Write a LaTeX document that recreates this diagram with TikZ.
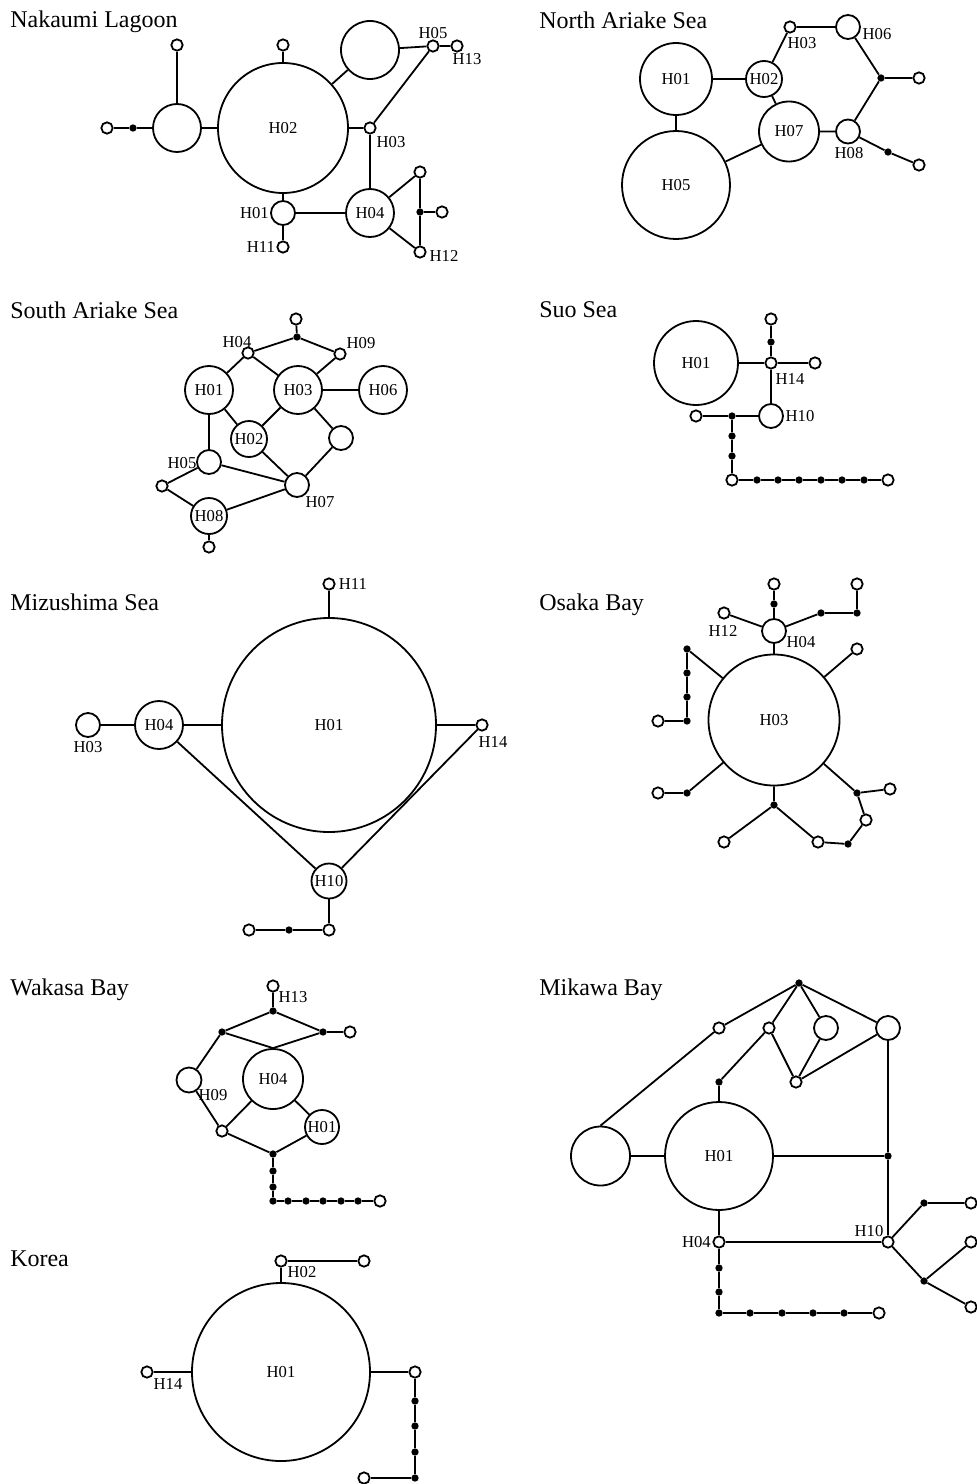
\documentclass[tikz,border=0pt]{standalone}
\usepackage{fontspec}
\setmainfont{Liberation Serif}
\begin{document}
\begin{tikzpicture}[x=0.75pt,y=-0.75pt,
  hap/.style={circle,draw,fill=white,line width=1.35pt,inner sep=0pt,minimum size=#1*1.5pt,font=\fontsize{12.5}{14}\selectfont},
  sm/.style={circle,draw,fill=white,line width=1.35pt,inner sep=0pt,minimum size=8.5pt},
  dot/.style={circle,fill=black,inner sep=0pt,minimum size=5.5pt},
  lbl/.style={inner sep=0pt,font=\fontsize{12.5}{14}\selectfont},
  ttl/.style={inner sep=0pt,anchor=base west,font=\fontsize{18}{21}\selectfont},
  edge/.style={line width=1.35pt}]
\useasboundingbox (0,0) rectangle (977,1484);

% ---------------- Nakaumi Lagoon
\node[ttl] (t1) at (10,27.7) {Nakaumi Lagoon};
\node[hap=65] (n02) at (283,128) {H02};
\node[sm] (n02t) at (283,45) {};
\node[hap=29] (nA) at (370,50) {};
\node[sm] (n05) at (433,46) {};
\node[sm] (n13) at (457,46) {};
\node[sm] (n03) at (370,128) {};
\node[hap=24] (n04) at (370,213) {H04};
\node[hap=12] (n01) at (283,213) {};
\node[sm] (n11) at (283,247) {};
\node[sm] (nR1) at (420,172) {};
\node[sm] (n12) at (420,252) {};
\node[dot] (nd1) at (420,212) {};
\node[sm] (nR2) at (442,212) {};
\node[hap=24] (nL) at (177,128) {};
\node[sm] (nLt) at (177,45) {};
\node[dot] (nd2) at (133,128) {};
\node[sm] (nLL) at (107,128) {};
\node[lbl] (ln05) at (433,33) {H05};
\node[lbl] (ln13) at (467,59) {H13};
\node[lbl] (ln03) at (391,142) {H03};
\node[lbl,anchor=east] (ln01) at (269,213) {H01};
\node[lbl] (ln11) at (261,247) {H11};
\node[lbl] (ln12) at (444,256) {H12};
\draw[edge] (n02) -- (n02t);
\draw[edge] (n02) -- (nA);
\draw[edge] (nA) -- (n05) -- (n13);
\draw[edge] (n02) -- (n03) -- (n05);
\draw[edge] (n03) -- (n04);
\draw[edge] (n02) -- (n01) -- (n04);
\draw[edge] (n01) -- (n11);
\draw[edge] (n04) -- (nR1) -- (nd1) -- (n12) -- (n04);
\draw[edge] (nd1) -- (nR2);
\draw[edge] (nL) -- (n02);
\draw[edge] (nL) -- (nLt);
\draw[edge] (nL) -- (nd2) -- (nLL);

% ---------------- North Ariake Sea
\node[ttl] (t2) at (539,28.3) {North Ariake Sea};
\node[hap=36] (a01) at (676,79) {H01};
\node[hap=54] (a05) at (676,185) {H05};
\node[hap=18] (a02) at (764,79) {H02};
\node[sm] (a03) at (790,27) {};
\node[hap=12] (a06) at (848,27) {};
\node[hap=30] (a07) at (789,131.5) {H07};
\node[hap=12] (a08) at (848,131.5) {};
\node[dot] (ad1) at (881,78) {};
\node[sm] (ar1) at (919,78) {};
\node[dot] (ad2) at (888,152) {};
\node[sm] (ar2) at (919,165) {};
\node[lbl] (la03) at (802,43) {H03};
\node[lbl] (la06) at (877,34) {H06};
\node[lbl] (la08) at (849,153) {H08};
\draw[edge] (a01) -- (a05);
\draw[edge] (a01) -- (a02) -- (a03) -- (a06) -- (ad1) -- (ar1);
\draw[edge] (a02) -- (a07) -- (a08) -- (ad1);
\draw[edge] (a05) -- (a07);
\draw[edge] (a08) -- (ad2) -- (ar2);

% ---------------- South Ariake Sea
\node[ttl] (t3) at (10,318.3) {South Ariake Sea};
\node[hap=24] (s01) at (209,390) {H01};
\node[hap=24] (s03) at (298,390) {H03};
\node[hap=24] (s06) at (383,390) {H06};
\node[sm] (s04) at (248,353) {};
\node[dot] (sd) at (297,337) {};
\node[sm] (st) at (296,319) {};
\node[sm] (s09) at (340,354) {};
\node[hap=18] (s02) at (249,439) {H02};
\node[hap=12] (sX) at (341,438) {};
\node[hap=12] (s05) at (209,462) {};
\node[hap=12] (s07) at (297,485) {};
\node[sm] (sS) at (162,486) {};
\node[hap=18] (s08) at (209,516) {H08};
\node[sm] (sb) at (209,547) {};
\node[lbl] (ls04) at (237,342) {H04};
\node[lbl] (ls09) at (361,343) {H09};
\node[lbl] (ls05) at (182,463) {H05};
\node[lbl] (ls07) at (320,502) {H07};
\draw[edge] (s01) -- (s04) -- (sd) -- (s09) -- (s03);
\draw[edge] (sd) -- (st);
\draw[edge] (s04) -- (s03) -- (s06);
\draw[edge] (s01) -- (s02) -- (s03);
\draw[edge] (s03) -- (sX) -- (s07);
\draw[edge] (s02) -- (s07);
\draw[edge] (s01) -- (s05) -- (s07);
\draw[edge] (s05) -- (sS) -- (s08) -- (s07);
\draw[edge] (s08) -- (sb);

% ---------------- Suo Sea
\node[ttl] (t4) at (539,317.3) {Suo Sea};
\node[hap=42] (u01) at (696,363) {H01};
\node[sm] (u14) at (771,363) {};
\node[dot] (ud1) at (771,342) {};
\node[sm] (ut) at (771,319) {};
\node[sm] (ur) at (815,363) {};
\node[hap=12] (u10) at (771,416) {};
\node[dot] (ud2) at (732,416) {};
\node[sm] (ul) at (696,416) {};
\node[dot] (ud3) at (732,436) {};
\node[dot] (ud4) at (732,456) {};
\node[sm] (uc) at (732,480) {};
\node[dot] (uc1) at (757,480) {};
\node[dot] (uc2) at (778,480) {};
\node[dot] (uc3) at (799,480) {};
\node[dot] (uc4) at (821,480) {};
\node[dot] (uc5) at (842,480) {};
\node[dot] (uc6) at (864,480) {};
\node[sm] (ue) at (888,480) {};
\node[lbl] (lu14) at (790,379) {H14};
\node[lbl] (lu10) at (800,416) {H10};
\draw[edge] (u01) -- (u14) -- (ud1) -- (ut);
\draw[edge] (u14) -- (ur);
\draw[edge] (u14) -- (u10) -- (ud2) -- (ul);
\draw[edge] (ud2) -- (ud3) -- (ud4) -- (uc) -- (uc1) -- (uc2) -- (uc3) -- (uc4) -- (uc5) -- (uc6) -- (ue);

% ---------------- Mizushima Sea
\node[ttl] (t5) at (10,610) {Mizushima Sea};
\node[hap=107] (m01) at (329,725) {H01};
\node[sm] (m11) at (329,584) {};
\node[hap=24] (m04) at (159,725) {H04};
\node[hap=12] (m03) at (88,725) {};
\node[sm] (m14) at (482,725) {};
\node[hap=17.5] (m10) at (329,881) {H10};
\node[sm] (mb1) at (329,930) {};
\node[dot] (mbd) at (289,930) {};
\node[sm] (mb2) at (249,930) {};
\node[lbl] (lm11) at (353,584) {H11};
\node[lbl] (lm03) at (88,747) {H03};
\node[lbl] (lm14) at (493,742) {H14};
\draw[edge] (m03) -- (m04) -- (m01) -- (m14) -- (m10) -- (m04);
\draw[edge] (m11) -- (m01);
\draw[edge] (m10) -- (mb1) -- (mbd) -- (mb2);

% ---------------- Osaka Bay
\node[ttl] (t6) at (539,610) {Osaka Bay};
\node[hap=65.5] (o03) at (774,720) {H03};
\node[hap=12] (o04) at (774,631) {};
\node[sm] (o12) at (724,613) {};
\node[dot] (od1) at (774,604) {};
\node[sm] (oc1) at (774,584) {};
\node[dot] (od2) at (821,613) {};
\node[dot] (od3) at (857,613) {};
\node[sm] (oc2) at (857,584) {};
\node[sm] (oc3) at (857,649) {};
\node[dot] (ol1) at (687,649) {};
\node[dot] (ol2) at (687,673) {};
\node[dot] (ol3) at (687,697) {};
\node[dot] (ol4) at (687,721) {};
\node[sm] (olc) at (658,721) {};
\node[dot] (od4) at (687,793) {};
\node[sm] (oc4) at (658,793) {};
\node[dot] (od5) at (774,805) {};
\node[sm] (oc5) at (724,842) {};
\node[sm] (oc6) at (818,842) {};
\node[dot] (od6) at (848,844) {};
\node[sm] (oc7) at (866,820) {};
\node[dot] (od7) at (857,793) {};
\node[sm] (oc8) at (890,789) {};
\node[lbl] (lo04) at (801,642) {H04};
\node[lbl] (lo12) at (723,631) {H12};
\draw[edge] (o04) -- (o03);
\draw[edge] (o04) -- (o12);
\draw[edge] (o04) -- (od1) -- (oc1);
\draw[edge] (o04) -- (od2) -- (od3) -- (oc2);
\draw[edge] (o03) -- (oc3);
\draw[edge] (o03) -- (ol1) -- (ol2) -- (ol3) -- (ol4) -- (olc);
\draw[edge] (o03) -- (od4) -- (oc4);
\draw[edge] (o03) -- (od5) -- (oc5);
\draw[edge] (od5) -- (oc6) -- (od6) -- (oc7) -- (od7) -- (o03);
\draw[edge] (od7) -- (oc8);

% ---------------- Wakasa Bay
\node[ttl] (t7) at (10,995) {Wakasa Bay};
\node[sm] (w13) at (273,986) {};
\node[dot] (wd1) at (273,1011) {};
\node[dot] (wd2) at (222,1032) {};
\node[dot] (wd3) at (323,1032) {};
\node[sm] (wc1) at (350,1032) {};
\node[hap=30] (w04) at (273,1079) {H04};
\node[hap=12.5] (w09) at (189,1080) {};
\node[sm] (wc2) at (222,1131) {};
\node[hap=17] (w01) at (322,1127) {H01};
\node[dot] (wd4) at (273,1154) {};
\node[dot] (wd5) at (273,1171) {};
\node[dot] (wd6) at (273,1187) {};
\node[dot] (wd7) at (273,1201) {};
\node[dot] (wc3) at (288,1201) {};
\node[dot] (wc4) at (306,1201) {};
\node[dot] (wc5) at (323,1201) {};
\node[dot] (wc6) at (341,1201) {};
\node[dot] (wc7) at (358,1201) {};
\node[sm] (we) at (380,1201) {};
\node[lbl] (lw13) at (293,997) {H13};
\node[lbl] (lw09) at (213,1095) {H09};
\draw[edge] (w13) -- (wd1) -- (wd2) -- (w04.north) -- (wd3) -- (wd1);
\draw[edge] (wd3) -- (wc1);
\draw[edge] (wd2) -- (w09) -- (wc2) -- (w04) -- (w01) -- (wd4) -- (wc2);
\draw[edge] (wd4) -- (wd5) -- (wd6) -- (wd7) -- (wc3) -- (wc4) -- (wc5) -- (wc6) -- (wc7) -- (we);

% ---------------- Mikawa Bay
\node[ttl] (t8) at (539,995) {Mikawa Bay};
\node[dot] (kt) at (799,983) {};
\node[sm] (kA) at (719,1028) {};
\node[sm] (kB) at (769,1028) {};
\node[hap=12] (kC) at (826,1028) {};
\node[hap=12] (kD) at (888,1028) {};
\node[sm] (kE) at (796,1082) {};
\node[dot] (kF) at (719,1082) {};
\node[hap=54] (k01) at (719,1156) {H01};
\node[hap=29.5] (kL) at (600.5,1156) {};
\node[dot] (kG) at (888,1156) {};
\node[sm] (k10) at (888,1242) {};
\node[sm] (k04) at (719,1242) {};
\node[dot] (kd1) at (924,1203) {};
\node[sm] (kc1) at (971,1203) {};
\node[sm] (kc2) at (971,1242) {};
\node[dot] (kd2) at (924,1281) {};
\node[sm] (kc3) at (971,1307) {};
\node[dot] (kv1) at (719,1268) {};
\node[dot] (kv2) at (719,1292) {};
\node[dot] (kv3) at (719,1313) {};
\node[dot] (kh1) at (750,1313) {};
\node[dot] (kh2) at (782,1313) {};
\node[dot] (kh3) at (813,1313) {};
\node[dot] (kh4) at (844,1313) {};
\node[sm] (ke) at (879,1313) {};
\node[lbl] (lk10) at (869,1231) {H10};
\node[lbl,anchor=east] (lk04) at (711,1242) {H04};
\draw[edge] (kL.north) -- (kA) -- (kt) -- (kB) -- (kF) -- (k01);
\draw[edge] (kt) -- (kC) -- (kE) -- (kB);
\draw[edge] (kt) -- (kD) -- (kE);
\draw[edge] (kL) -- (k01) -- (kG);
\draw[edge] (kD) -- (kG) -- (k10);
\draw[edge] (k01) -- (k04) -- (k10);
\draw[edge] (k10) -- (kd1) -- (kc1);
\draw[edge] (k10) -- (kd2) -- (kc2);
\draw[edge] (kd2) -- (kc3);
\draw[edge] (k04) -- (kv1) -- (kv2) -- (kv3) -- (kh1) -- (kh2) -- (kh3) -- (kh4) -- (ke);

% ---------------- Korea
\node[ttl] (t9) at (10,1266.7) {Korea};
\node[hap=89] (r01) at (281,1372) {H01};
\node[sm] (r02) at (281,1261) {};
\node[sm] (rr) at (364,1261) {};
\node[sm] (r14) at (147,1372) {};
\node[sm] (rc1) at (415,1372) {};
\node[dot] (rd1) at (415,1401) {};
\node[dot] (rd2) at (415,1426) {};
\node[dot] (rd3) at (415,1452) {};
\node[dot] (rd4) at (415,1478) {};
\node[sm] (rc2) at (364,1478) {};
\node[lbl] (lr02) at (302,1272) {H02};
\node[lbl] (lr14) at (168,1384) {H14};
\draw[edge] (r01) -- (r02) -- (rr);
\draw[edge] (r14) -- (r01) -- (rc1) -- (rd1) -- (rd2) -- (rd3) -- (rd4) -- (rc2);
\end{tikzpicture}
\end{document}
